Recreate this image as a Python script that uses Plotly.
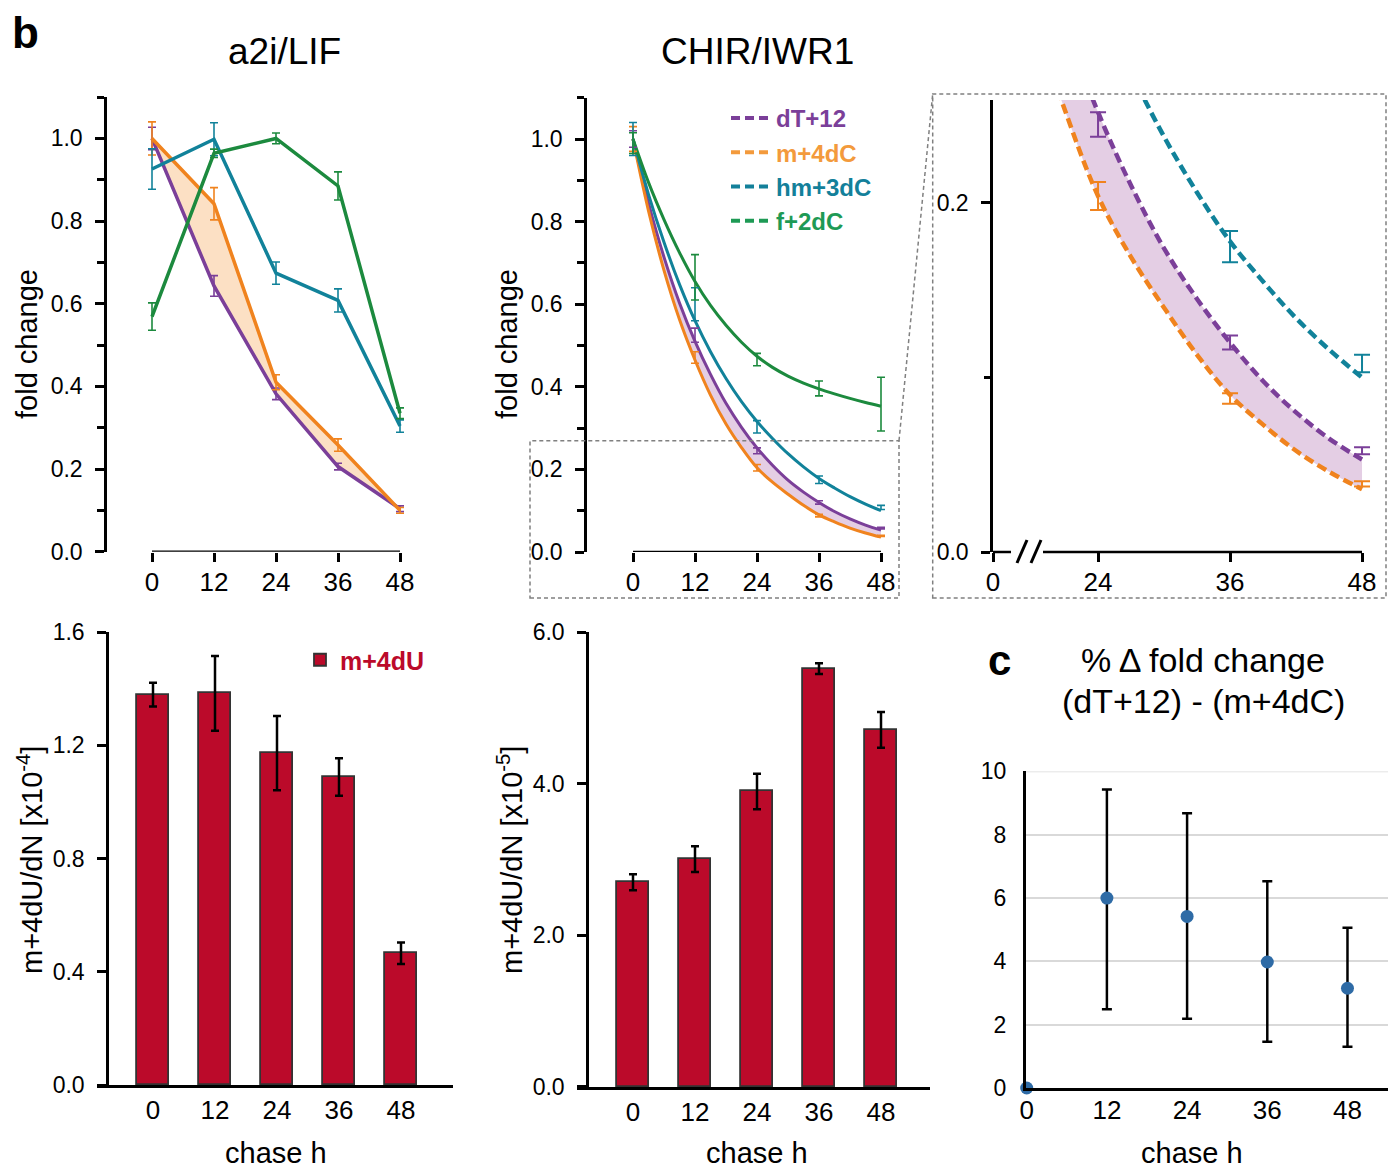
import plotly.graph_objects as go

# --- DATA ---
HOURS = [0, 12, 24, 36, 48]

# a2i/LIF fold change (measured points)
A2I_DT12 = [1.0, 0.643, 0.382, 0.206, 0.104]
A2I_DT12_ERR = [0.027, 0.025, 0.014, 0.008, 0.007]
A2I_M4DC = [1.0, 0.842, 0.41, 0.258, 0.1]
A2I_M4DC_ERR = [0.04, 0.039, 0.018, 0.015, 0.007]
A2I_HM3DC = [0.926, 0.998, 0.674, 0.608, 0.304]
A2I_HM3DC_ERR = [0.049, 0.04, 0.027, 0.028, 0.015]
A2I_F2DC = [0.569, 0.964, 1.0, 0.885, 0.335]
A2I_F2DC_ERR = [0.033, 0.01, 0.013, 0.034, 0.013]

# CHIR/IWR1 fold change (measured points)
CHIR_DT12 = [1.0, 0.525, 0.245, 0.12, 0.058]
CHIR_DT12_ERR = [0.02, 0.017, 0.007, 0.004, 0.002]
CHIR_M4DC = [1.0, 0.471, 0.204, 0.088, 0.039]
CHIR_M4DC_ERR = [0.03, 0.014, 0.008, 0.003, 0.0015]
CHIR_HM3DC = [1.0, 0.6, 0.303, 0.175, 0.108]
CHIR_HM3DC_ERR = [0.04, 0.04, 0.015, 0.009, 0.005]
CHIR_F2DC = [0.99, 0.665, 0.466, 0.396, 0.358]
CHIR_F2DC_ERR = [0.025, 0.055, 0.015, 0.018, 0.065]

# CHIR/IWR1 fitted decay curves
FIT_T = [0, 3, 6, 9, 12, 15, 18, 21, 24, 27, 30, 33, 36, 39, 42, 45, 48]
FIT_DT12 = [1.0, 0.845, 0.714, 0.603, 0.51, 0.43, 0.36, 0.302, 0.252, 0.21,
            0.174, 0.145, 0.120, 0.098, 0.080, 0.065, 0.053]
FIT_M4DC = [1.0, 0.826, 0.682, 0.563, 0.465, 0.38, 0.31, 0.253, 0.204, 0.169,
            0.140, 0.113, 0.090, 0.073, 0.058, 0.046, 0.036]
FIT_HM3DC = [1.0, 0.866, 0.750, 0.648, 0.560, 0.485, 0.420, 0.364, 0.316, 0.275,
             0.238, 0.206, 0.178, 0.155, 0.134, 0.116, 0.100]
FIT_F2DC = [1.0, 0.895, 0.805, 0.725, 0.655, 0.597, 0.549, 0.508, 0.474, 0.447,
            0.426, 0.409, 0.395, 0.383, 0.372, 0.362, 0.353]

# m+4dU/dN bars
A2I_M4DU = [1.379, 1.383, 1.172, 1.088, 0.465]
A2I_M4DU_ERR = [0.042, 0.132, 0.131, 0.066, 0.038]
CHIR_M4DU = [2.70, 3.005, 3.897, 5.517, 4.709]
CHIR_M4DU_ERR = [0.105, 0.17, 0.235, 0.07, 0.237]

# % delta fold change (dT+12) - (m+4dC)
DELTA = [0, 6.0, 5.42, 3.98, 3.15]
DELTA_ERR_PLUS = [0, 3.43, 3.26, 2.55, 1.91]
DELTA_ERR_MINUS = [0, 3.51, 3.23, 2.52, 1.85]

# --- STYLE ---
W, H = 1388, 1168
FONT = "Arial, Liberation Sans, sans-serif"
PURPLE = "#7B3F99"
ORANGE = "#F0831E"
TEAL = "#11829A"
GREEN = "#1C8A3E"
PEACH = "rgba(250,208,165,0.65)"
LAVENDER = "rgba(214,180,214,0.65)"
CRIMSON = "#BB0A2A"
BLUE = "#2E6BA6"
DASH = "10px,5px"


def fx(px):
    return px / W


def fy(py):
    return 1 - py / H


fig = go.Figure()


def err(vals, color, thick=1.6, cap=4):
    return dict(type="data", array=vals, color=color, thickness=thick, width=cap)


# 1. a2i/LIF lines (purple first so orange can fill to it)
series_a2i = [
    (A2I_DT12, A2I_DT12_ERR, PURPLE, None),
    (A2I_M4DC, A2I_M4DC_ERR, ORANGE, "tonexty"),
    (A2I_HM3DC, A2I_HM3DC_ERR, TEAL, None),
    (A2I_F2DC, A2I_F2DC_ERR, GREEN, None),
]
for vals, e, col, fill in series_a2i:
    fig.add_trace(go.Scatter(
        x=HOURS, y=vals, mode="lines", line=dict(color=col, width=3.5),
        fill=fill, fillcolor=PEACH, error_y=err(e, col),
        showlegend=False, xaxis="x", yaxis="y"))

# 2. CHIR/IWR1 fitted curves + measured error bars
fits = [(FIT_DT12, PURPLE, None), (FIT_M4DC, ORANGE, "tonexty"),
        (FIT_HM3DC, TEAL, None), (FIT_F2DC, GREEN, None)]
for vals, col, fill in fits:
    fig.add_trace(go.Scatter(
        x=FIT_T, y=vals, mode="lines", line=dict(color=col, width=3, shape="spline"),
        fill=fill, fillcolor=LAVENDER, showlegend=False, xaxis="x2", yaxis="y2"))

points_chir = [(CHIR_DT12, CHIR_DT12_ERR, PURPLE), (CHIR_M4DC, CHIR_M4DC_ERR, ORANGE),
               (CHIR_HM3DC, CHIR_HM3DC_ERR, TEAL), (CHIR_F2DC, CHIR_F2DC_ERR, GREEN)]
for vals, e, col in points_chir:
    fig.add_trace(go.Scatter(
        x=HOURS, y=vals, mode="markers", marker=dict(size=0.1, color=col),
        error_y=err(e, col), showlegend=False, xaxis="x2", yaxis="y2"))

# 3. zoomed inset (dashed curves)
for vals, col, fill in fits[:3]:
    fig.add_trace(go.Scatter(
        x=FIT_T, y=vals, mode="lines",
        line=dict(color=col, width=4.5, shape="spline", dash=DASH),
        fill=fill, fillcolor=LAVENDER, showlegend=False, xaxis="x3", yaxis="y3"))
for vals, e, col in points_chir[:3]:
    fig.add_trace(go.Scatter(
        x=HOURS, y=vals, mode="markers", marker=dict(size=0.1, color=col),
        error_y=err(e, col, thick=2, cap=8), showlegend=False, xaxis="x3", yaxis="y3"))

# legend entries (dashed swatches, coloured bold labels)
legend_items = [("dT+12", PURPLE), ("m+4dC", "#F39A3C"), ("hm+3dC", "#13809A"), ("f+2dC", "#1E9A55")]
for label, col in legend_items:
    fig.add_trace(go.Scatter(
        x=[None], y=[None], mode="lines", line=dict(color=col, width=4, dash="9px,5px"),
        name=f"<b><span style='color:{col}'>{label}</span></b>",
        legend="legend", xaxis="x2", yaxis="y2"))

# 4./5. bar panels
fig.add_trace(go.Bar(
    x=HOURS, y=A2I_M4DU, width=6.2,
    marker=dict(color=CRIMSON, line=dict(color="#333333", width=1.8)),
    error_y=err(A2I_M4DU_ERR, "black", thick=2.5, cap=4),
    name=f"<b><span style='color:{CRIMSON}'>m+4dU</span></b>",
    legend="legend2", showlegend=True, xaxis="x4", yaxis="y4"))
fig.add_trace(go.Bar(
    x=HOURS, y=CHIR_M4DU, width=6.2,
    marker=dict(color=CRIMSON, line=dict(color="#333333", width=1.8)),
    error_y=err(CHIR_M4DU_ERR, "black", thick=2.5, cap=4),
    showlegend=False, xaxis="x5", yaxis="y5"))

# 6. % delta fold change
fig.add_trace(go.Scatter(
    x=HOURS, y=DELTA, mode="markers", cliponaxis=False,
    marker=dict(color=BLUE, size=13),
    error_y=dict(type="data", symmetric=False, array=DELTA_ERR_PLUS,
                 arrayminus=DELTA_ERR_MINUS, color="black", thickness=2.5, width=5),
    showlegend=False, xaxis="x6", yaxis="y6"))

# --- AXES ---
tickfont_y = dict(family=FONT, size=23, color="black")
tickfont_x = dict(family=FONT, size=26, color="black")
common_y = dict(showline=True, linewidth=2.5, linecolor="black", ticks="outside",
                ticklen=9, tickwidth=2.5, tickcolor="black", showgrid=False,
                zeroline=False, tickfont=tickfont_y, ticklabelstandoff=8, automargin=False)
common_x = dict(showline=False, ticks="outside", ticklen=9, tickwidth=2.5,
                tickcolor="black", showgrid=False, zeroline=False,
                tickvals=HOURS, tickfont=tickfont_x, ticklabelstandoff=-2, automargin=False)
minor_y = dict(dtick=0.1, ticks="outside", ticklen=7, tickwidth=2.5, tickcolor="black")

px_per_h = 62 / 12

fig.update_layout(
    xaxis=dict(common_x, domain=[fx(107), fx(412)],
               range=[(107 - 152) / px_per_h, (412 - 152) / px_per_h], anchor="y"),
    yaxis=dict(common_y, domain=[fy(551.7), fy(97.1)], range=[0, 1.1], dtick=0.2,
               tickformat=".1f", minor=minor_y, anchor="x"),
    xaxis2=dict(common_x, domain=[fx(587), fx(893)],
                range=[(587 - 633) / px_per_h, (893 - 633) / px_per_h], anchor="y2"),
    yaxis2=dict(common_y, domain=[fy(552), fy(97.7)], range=[0, 1.1], dtick=0.2,
                tickformat=".1f", minor=minor_y, anchor="x2"),
    xaxis3=dict(common_x, domain=[fx(993), fx(1375)], range=[14.45, 49.18],
                tickvals=[14.45, 24, 36, 48], ticktext=["0", "24", "36", "48"], anchor="y3"),
    yaxis3=dict(common_y, domain=[fy(552), fy(100)], range=[0, 0.259], dtick=0.2,
                tickformat=".1f", minor=dict(minor_y, ticklen=6), anchor="x3"),
    xaxis4=dict(common_x, domain=[fx(97), fx(453)], showline=True, linewidth=2.5,
                linecolor="black", ticks="", ticklabelstandoff=0,
                range=[(97 - 153) / px_per_h, (453 - 153) / px_per_h], anchor="y4"),
    yaxis4=dict(common_y, domain=[fy(1085), fy(632)], range=[0, 1.6], dtick=0.4,
                tickformat=".1f", anchor="free", position=fx(107)),
    xaxis5=dict(common_x, domain=[fx(577), fx(930)], showline=True, linewidth=2.5,
                linecolor="black", ticks="", ticklabelstandoff=0,
                range=[(577 - 633) / px_per_h, (930 - 633) / px_per_h], anchor="y5"),
    yaxis5=dict(common_y, domain=[fy(1086.9), fy(632)], range=[0, 6.0], dtick=2,
                tickformat=".1f", anchor="free", position=fx(587)),
    xaxis6=dict(common_x, domain=[fx(1025.7), 1.0], showline=True, linewidth=2.5,
                linecolor="black", ticks="", ticklabelstandoff=-3,
                range=[-1 / 6.683, (1388 - 1026.7) / 6.683], anchor="y6"),
    yaxis6=dict(common_y, domain=[fy(1088), fy(771.4)], range=[0, 10], dtick=2,
                ticks="", ticklabelstandoff=12, showgrid=True, gridcolor="#d9d9d9",
                gridwidth=1.5, anchor="x6"),
)

# --- SHAPES: offset x-axis lines, broken axis, zoom boxes ---
shapes = [
    dict(type="line", xref="x", yref="y", x0=0, x1=48, y0=0, y1=0,
         line=dict(color="black", width=2.5)),
    dict(type="line", xref="x2", yref="y2", x0=0, x1=48, y0=0, y1=0,
         line=dict(color="black", width=2.5)),
    # top gridline of panel c
    dict(type="line", xref="x6 domain", yref="y6", x0=0, x1=1, y0=10, y1=10,
         line=dict(color="#d9d9d9", width=1.5), layer="below"),
    # inset x axis with // break
    dict(type="line", xref="paper", yref="paper", x0=fx(993), x1=fx(1011), y0=fy(552), y1=fy(552),
         line=dict(color="black", width=2.5)),
    dict(type="line", xref="paper", yref="paper", x0=fx(1043), x1=fx(1362), y0=fy(552), y1=fy(552),
         line=dict(color="black", width=2.5)),
    dict(type="line", xref="paper", yref="paper", x0=fx(1017), x1=fx(1027), y0=fy(563), y1=fy(540),
         line=dict(color="black", width=3)),
    dict(type="line", xref="paper", yref="paper", x0=fx(1031), x1=fx(1041), y0=fy(563), y1=fy(540),
         line=dict(color="black", width=3)),
]
gray = dict(color="#808080", width=1.5, dash="4px,3px")
for x0, y0, x1, y1 in [(530, 440.7, 899, 598), (932.7, 94, 1386, 598)]:
    shapes.append(dict(type="rect", xref="paper", yref="paper", x0=fx(x0), x1=fx(x1),
                       y0=fy(y1), y1=fy(y0), line=gray))
shapes.append(dict(type="line", xref="paper", yref="paper", x0=fx(899), x1=fx(932.7),
                   y0=fy(440.7), y1=fy(94), line=gray))
fig.update_layout(shapes=shapes)

# --- TEXT ---
def ann(text, x, y, size, bold=False, angle=0):
    return dict(text=f"<b>{text}</b>" if bold else text, x=fx(x), y=fy(y), xref="paper",
                yref="paper", showarrow=False, textangle=angle, xanchor="center",
                yanchor="middle", font=dict(family=FONT, size=size, color="black"))


annotations = [
    ann("b", 25, 33, 44, bold=True),
    ann("a2i/LIF", 284, 52, 37),
    ann("CHIR/IWR1", 757, 52, 37),
    ann("fold change", 27, 344, 29, angle=-90),
    ann("fold change", 507, 344, 29, angle=-90),
    ann("m+4dU/dN [x10<sup>-4</sup>]", 30, 860, 29, angle=-90),
    ann("m+4dU/dN [x10<sup>-5</sup>]", 510, 860, 29, angle=-90),
    ann("chase h", 276, 1153, 29),
    ann("chase h", 757, 1153, 29),
    ann("chase h", 1192, 1153, 29),
    ann("c", 999, 660, 42, bold=True),
    ann("% Δ fold change", 1203, 660, 34),
    ann("(dT+12) - (m+4dC)", 1203, 701, 34),
]
fig.update_layout(annotations=annotations)

fig.update_layout(
    width=W, height=H, margin=dict(l=0, r=0, t=0, b=0),
    paper_bgcolor="white", plot_bgcolor="white",
    font=dict(family=FONT, color="black"),
    legend=dict(x=fx(726), y=fy(96), xanchor="left", yanchor="top", traceorder="normal",
                bgcolor="rgba(0,0,0,0)", font=dict(family=FONT, size=24),
                tracegroupgap=0, itemwidth=40),
    legend2=dict(x=fx(300), y=fy(637), xanchor="left", yanchor="top",
                 bgcolor="rgba(0,0,0,0)", font=dict(family=FONT, size=25)),
    bargap=0,
)

# page body has a default 8px margin; drop it so the figure sits at the window origin
fig.write_html("out.html", config={"displayModeBar": False},
               post_script="document.body.style.margin='0px';")
